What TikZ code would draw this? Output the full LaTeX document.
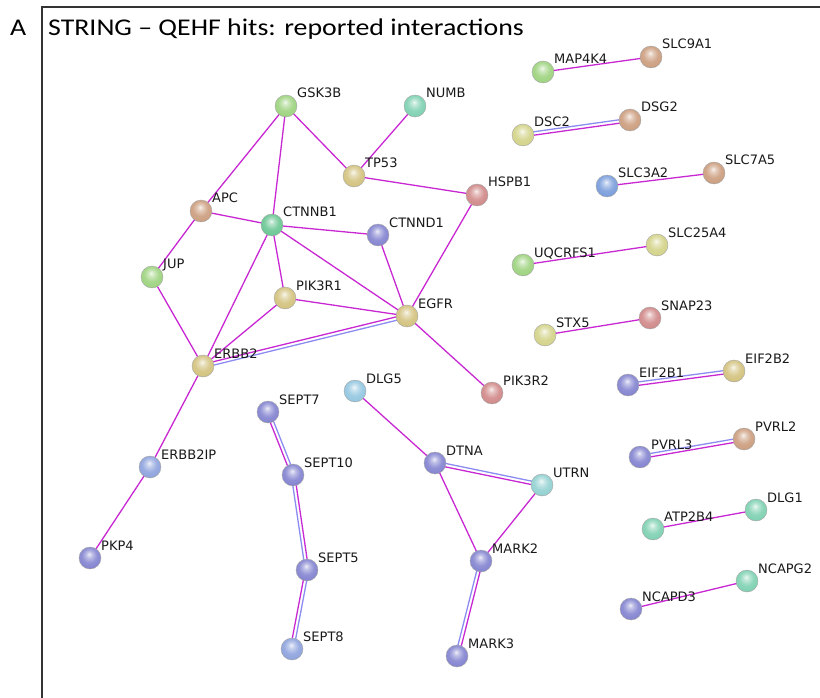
\documentclass[tikz,border=0pt]{standalone}
\usepackage{fontspec}
\setmainfont{DejaVu Sans}
\newfontfamily\titlefont[FakeStretch=1.16]{Carlito}
\usetikzlibrary{calc,backgrounds}

\definecolor{expc}{RGB}{200,40,210}
\definecolor{dbc}{RGB}{140,140,240}
\definecolor{cGreen}{RGB}{160,212,130}
\definecolor{cMint}{RGB}{130,210,180}
\definecolor{cTeal}{RGB}{110,200,150}
\definecolor{cKhaki}{RGB}{212,196,130}
\definecolor{cYel}{RGB}{212,212,140}
\definecolor{cRose}{RGB}{210,140,140}
\definecolor{cTan}{RGB}{205,160,130}
\definecolor{cPeri}{RGB}{135,135,210}
\definecolor{cLBlue}{RGB}{150,200,225}
\definecolor{cSky}{RGB}{145,165,222}
\definecolor{cBlue}{RGB}{125,160,220}
\definecolor{cCyan}{RGB}{150,210,210}
\colorlet{sbc}{cGreen}

\pgfdeclareradialshading[sbc]{stringball}{\pgfqpoint{-2bp}{9bp}}{%
  color(0bp)=(sbc!15!white); color(7bp)=(sbc!55!white); color(17bp)=(sbc!92!white);
  color(26bp)=(sbc); color(33bp)=(sbc!75!black); color(50bp)=(sbc!60!black)}

\tikzset{
  prot/.style={circle, minimum size=22pt, inner sep=0pt, /utils/exec={\colorlet{sbc}{#1}}, shading=stringball, draw=black!35, line width=0.4pt},
  lbl/.style={anchor=base west, font=\fontsize{13}{15}\selectfont, inner sep=0pt, text=black!90},
  expe/.style={draw=expc, line width=1.3pt},
  dbe/.style={draw=dbc, line width=1.3pt},
  ttl/.style={anchor=base west, font=\titlefont\fontsize{24}{28}\selectfont, inner sep=0pt},
  frame/.style={draw=black!80, line width=1.6pt}
}

\newcommand\protnode[5]{%
  \node[prot=#4] (#1) at (#2,#3) {};
  \node[lbl] (#1-l) at ([xshift=11pt,yshift=8pt]#1.center) {#5};
}
\newcommand\sedge[2]{\draw[expe] (#1.center) -- (#2.center);}
\newcommand\dedge[4]{%
  \draw[#3] ($(#1)!1.7pt!90:(#2)$) -- ($(#2)!1.7pt!-90:(#1)$);
  \draw[#4] ($(#1)!1.7pt!-90:(#2)$) -- ($(#2)!1.7pt!90:(#1)$);
}

\begin{document}
\begin{tikzpicture}[x=1pt,y=-1pt]
\useasboundingbox (0,0) rectangle (820,698);
\draw[frame] (42,698) -- (42,7) -- (820,7);
\node[ttl] (A) at (10,36) {A};
\node[ttl] (title) at (48,36) {STRING – QEHF hits: reported interactions};

% proteins
\protnode{GSK3B}{286}{106}{cGreen}{GSK3B}
\protnode{NUMB}{415}{106}{cMint}{NUMB}
\protnode{TP53}{354}{176}{cKhaki}{TP53}
\protnode{HSPB1}{477}{195}{cRose}{HSPB1}
\protnode{APC}{201}{211}{cTan}{APC}
\protnode{CTNNB1}{272}{225}{cTeal}{CTNNB1}
\protnode{CTNND1}{378}{235}{cPeri}{CTNND1}
\protnode{JUP}{152}{277}{cGreen}{JUP}
\protnode{PIK3R1}{285}{298}{cKhaki}{PIK3R1}
\protnode{EGFR}{407}{316}{cKhaki}{EGFR}
\protnode{ERBB2}{203}{366}{cKhaki}{ERBB2}
\protnode{PIK3R2}{492}{393}{cRose}{PIK3R2}
\protnode{DLG5}{355}{391}{cLBlue}{DLG5}
\protnode{SEPT7}{268}{412}{cPeri}{SEPT7}
\protnode{SEPT10}{293}{475}{cPeri}{SEPT10}
\protnode{DTNA}{435}{463}{cPeri}{DTNA}
\protnode{UTRN}{542}{485}{cCyan}{UTRN}
\protnode{ERBB2IP}{150}{467}{cSky}{ERBB2IP}
\protnode{PKP4}{90}{558}{cPeri}{PKP4}
\protnode{SEPT5}{307}{570}{cPeri}{SEPT5}
\protnode{MARK2}{481}{561}{cPeri}{MARK2}
\protnode{SEPT8}{292}{649}{cSky}{SEPT8}
\protnode{MARK3}{457}{656}{cPeri}{MARK3}

\protnode{MAP4K4}{543}{72}{cGreen}{MAP4K4}
\protnode{SLC9A1}{651}{57}{cTan}{SLC9A1}
\protnode{DSC2}{523}{135}{cYel}{DSC2}
\protnode{DSG2}{630}{120}{cTan}{DSG2}
\protnode{SLC3A2}{607}{186}{cBlue}{SLC3A2}
\protnode{SLC7A5}{714}{173}{cTan}{SLC7A5}
\protnode{UQCRFS1}{523}{265}{cGreen}{UQCRFS1}
\protnode{SLC25A4}{657}{245}{cYel}{SLC25A4}
\protnode{STX5}{545}{335}{cYel}{STX5}
\protnode{SNAP23}{650}{318}{cRose}{SNAP23}
\protnode{EIF2B1}{628}{385}{cPeri}{EIF2B1}
\protnode{EIF2B2}{734}{371}{cKhaki}{EIF2B2}
\protnode{PVRL3}{640}{457}{cPeri}{PVRL3}
\protnode{PVRL2}{744}{439}{cTan}{PVRL2}
\protnode{ATP2B4}{653}{529}{cMint}{ATP2B4}
\protnode{DLG1}{756}{510}{cMint}{DLG1}
\protnode{NCAPD3}{631}{609}{cPeri}{NCAPD3}
\protnode{NCAPG2}{747}{581}{cMint}{NCAPG2}

\begin{pgfonlayer}{background}
\sedge{GSK3B}{APC}
\sedge{GSK3B}{CTNNB1}
\sedge{GSK3B}{TP53}
\sedge{NUMB}{TP53}
\sedge{TP53}{HSPB1}
\sedge{HSPB1}{EGFR}
\sedge{APC}{CTNNB1}
\sedge{APC}{JUP}
\sedge{CTNNB1}{CTNND1}
\sedge{CTNNB1}{ERBB2}
\sedge{CTNNB1}{PIK3R1}
\sedge{CTNNB1}{EGFR}
\sedge{CTNND1}{EGFR}
\sedge{JUP}{ERBB2}
\sedge{PIK3R1}{EGFR}
\sedge{PIK3R1}{ERBB2}
\sedge{EGFR}{PIK3R2}
\sedge{ERBB2}{ERBB2IP}
\sedge{ERBB2IP}{PKP4}
\sedge{DLG5}{DTNA}
\sedge{DTNA}{MARK2}
\sedge{UTRN}{MARK2}
\sedge{MAP4K4}{SLC9A1}
\sedge{SLC3A2}{SLC7A5}
\sedge{UQCRFS1}{SLC25A4}
\sedge{STX5}{SNAP23}
\sedge{ATP2B4}{DLG1}
\sedge{NCAPD3}{NCAPG2}
\dedge{ERBB2}{EGFR}{expe}{dbe}
\dedge{DSC2}{DSG2}{dbe}{expe}
\dedge{EIF2B1}{EIF2B2}{dbe}{expe}
\dedge{PVRL3}{PVRL2}{dbe}{expe}
\dedge{DTNA}{UTRN}{dbe}{expe}
\dedge{SEPT7}{SEPT10}{dbe}{expe}
\dedge{SEPT10}{SEPT5}{expe}{dbe}
\dedge{SEPT5}{SEPT8}{dbe}{expe}
\dedge{MARK2}{MARK3}{expe}{dbe}
\end{pgfonlayer}
\end{tikzpicture}
\end{document}
